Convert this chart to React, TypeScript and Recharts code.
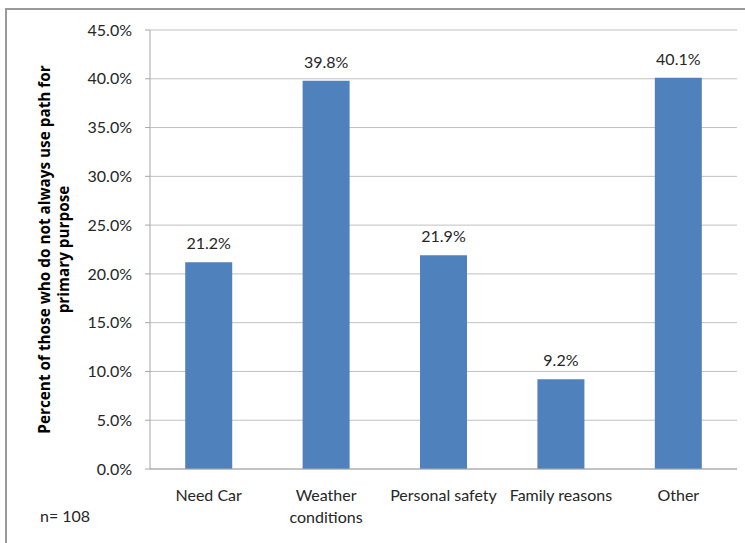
import React from 'react';
import { BarChart, Bar, XAxis, YAxis, CartesianGrid, LabelList } from 'recharts';

const categories = ['Need Car', 'Weather conditions', 'Personal safety', 'Family reasons', 'Other'];
const percents = [21.2, 39.8, 21.9, 9.2, 40.1];
const yTicks = [0, 5, 10, 15, 20, 25, 30, 35, 40, 45];
const edgeTicks = [0, 1, 2, 3, 4, 5];
const wrappedLabels: Record<string, string[]> = {
  'Weather conditions': ['Weather', 'conditions'],
};
const yLabelLines = ['Percent of those who do not always use path for', 'primary purpose'];
const sampleNote = 'n= 108';

const FONT = 'Lato, "Open Sans", sans-serif';
const TITLE_FONT = '"Open Sans", Lato, sans-serif';
const FS = 16;
const TEXT = '#262626';
const AXIS = '#a6a6a6';

const chartData = categories.map((category, i) => ({ category, value: percents[i] }));

const XTick = (props: any) => {
  const { x, y, payload } = props;
  const lines = wrappedLabels[payload.value] ?? [payload.value];
  return (
    <text x={x} y={y} textAnchor="middle" fill={TEXT} fontSize={FS} fontFamily={FONT}>
      {lines.map((line, i) => (
        <tspan key={i} x={x} dy={i === 0 ? '0.71em' : 22}>
          {line}
        </tspan>
      ))}
    </text>
  );
};

const YTitle = (props: any) => {
  const { viewBox } = props;
  const cy = viewBox.y + viewBox.height / 2;
  const xs = [viewBox.x + 14, viewBox.x + 33];
  return (
    <g>
      {yLabelLines.map((line, i) => (
        <text
          key={i}
          x={xs[i]}
          y={cy}
          transform={`rotate(-90, ${xs[i]}, ${cy})`}
          textAnchor="middle"
          dominantBaseline="central"
          fontWeight="bold"
          fontSize={15.3}
          fontFamily={TITLE_FONT}
          fill="#000"
        >
          {line}
        </text>
      ))}
    </g>
  );
};

export default function App() {
  return (
    <div
      style={{
        position: 'absolute',
        left: 0,
        top: 0,
        width: 745,
        height: 543,
        overflow: 'hidden',
        background: '#fff',
      }}
    >
      <div
        style={{
          position: 'absolute',
          left: 5,
          top: 8,
          width: 780,
          height: 580,
          border: '2px solid #9a9a9a',
        }}
      />
      <div style={{ position: 'absolute', left: 0, top: 0 }}>
        <BarChart
          width={745}
          height={543}
          data={chartData}
          margin={{ top: 30, right: 8, left: 30, bottom: 0 }}
          barCategoryGap="30%"
        >
          <CartesianGrid horizontal vertical={false} stroke="#c0c0c0" />
          <XAxis
            xAxisId="edges"
            type="number"
            domain={[0, 5]}
            ticks={edgeTicks}
            tick={false}
            height={0}
            axisLine={false}
            tickLine={{ stroke: AXIS }}
            tickSize={5}
            allowDataOverflow
          />
          <XAxis
            xAxisId="cat"
            dataKey="category"
            height={74}
            interval={0}
            tickLine={false}
            tickSize={0}
            tickMargin={21}
            axisLine={{ stroke: AXIS }}
            tick={<XTick />}
          />
          <YAxis
            width={120}
            domain={[0, 45]}
            ticks={yTicks}
            interval={0}
            tickFormatter={(v: number) => `${v.toFixed(1)}%`}
            tick={{ fill: TEXT, fontSize: FS, fontFamily: FONT }}
            tickLine={{ stroke: AXIS }}
            axisLine={{ stroke: AXIS }}
            tickSize={5}
            tickMargin={13}
            label={<YTitle />}
          />
          <Bar xAxisId="cat" dataKey="value" fill="#4f81bd" isAnimationActive={false}>
            <LabelList
              dataKey="value"
              position="top"
              offset={13}
              formatter={(v: any) => `${Number(v).toFixed(1)}%`}
              fill={TEXT}
              fontSize={FS}
              fontFamily={FONT}
            />
          </Bar>
        </BarChart>
      </div>
      <svg
        width={745}
        height={543}
        style={{ position: 'absolute', left: 0, top: 0, pointerEvents: 'none' }}
      >
        <text x={40} y={522} fill={TEXT} fontSize={FS} fontFamily={FONT}>
          {sampleNote}
        </text>
      </svg>
    </div>
  );
}
